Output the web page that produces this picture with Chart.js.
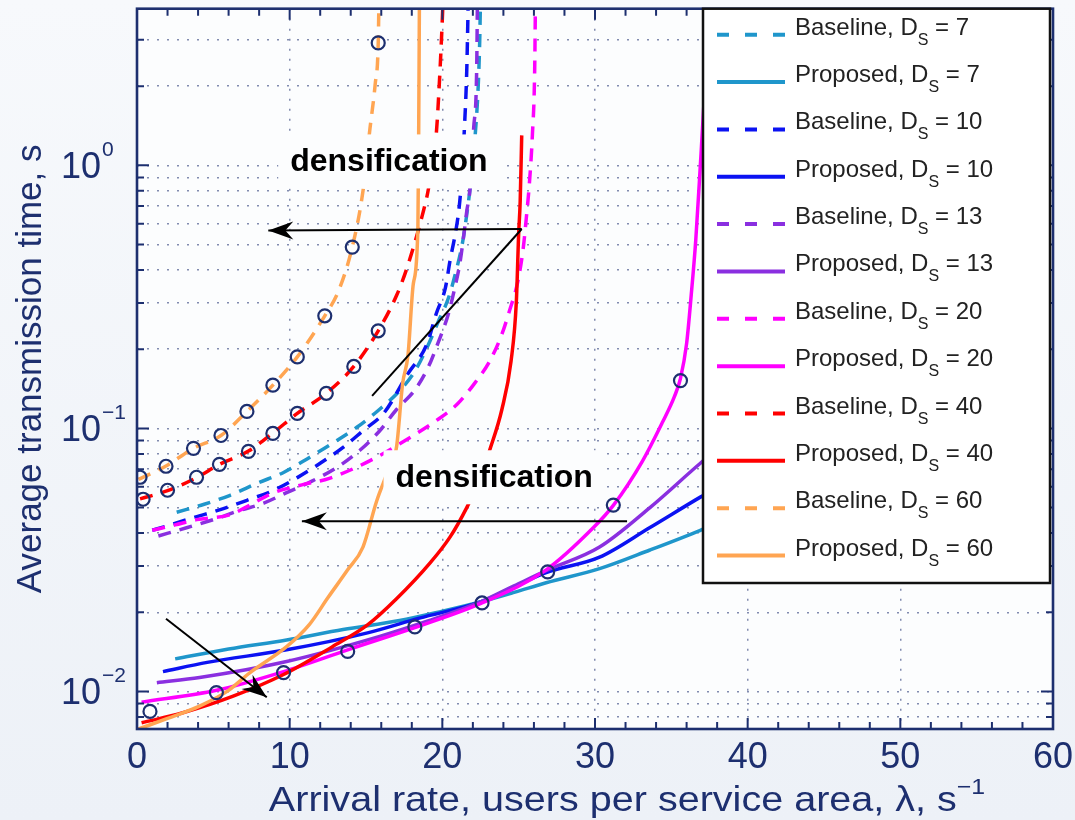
<!DOCTYPE html>
<html>
<head>
<meta charset="utf-8">
<script src="https://cdn.jsdelivr.net/npm/chart.js@4/dist/chart.umd.min.js"></script>
<style>
  html, body { margin: 0; padding: 0; background: #f2f5f9; }
  #chart { display: block; }
</style>
</head>
<body>
<canvas id="chart" width="1075" height="820"></canvas>
<script>
// tick labels
const xTicks = [0, 10, 20, 30, 40, 50, 60];
const yTickExps = [-2, -1, 0];

// service density values, one pair of curves per value
const dsValues = [7, 10, 13, 20, 40, 60];

// [arrival rate, average transmission time]
const baseline7 = [[2.6, 0.048], [4.4, 0.0515], [6.1, 0.0557], [7.9, 0.062], [9.6, 0.068], [11.3, 0.0776], [12.6, 0.0863], [14.4, 0.101], [15.8, 0.117], [17.2, 0.139], [18.2, 0.165], [19.0, 0.203], [19.8, 0.26], [20.4, 0.313], [20.9, 0.397], [21.3, 0.5], [21.6, 0.65], [21.9, 0.9], [22.15, 1.3], [22.35, 2.0], [22.45, 3.0], [22.5, 4.3]];
const proposed7 = [[2.5, 0.0133], [6.0, 0.0145], [9.8, 0.0157], [13.5, 0.0172], [17.2, 0.0186], [20.0, 0.0202], [22.5, 0.0219], [24.7, 0.0238], [26.8, 0.0259], [30.3, 0.0293], [33.6, 0.0345], [36.9, 0.041], [38.5, 0.045]];
const baseline10 = [[1.0, 0.041], [2.2, 0.043], [3.8, 0.046], [5.4, 0.049], [7.2, 0.0533], [8.9, 0.058], [10.5, 0.065], [12.0, 0.0737], [13.5, 0.0847], [14.8, 0.098], [16.2, 0.115], [17.7, 0.16], [19.0, 0.21], [19.6, 0.273], [20.2, 0.342], [20.5, 0.433], [20.85, 0.55], [21.1, 0.69], [21.25, 0.87], [21.45, 1.4], [21.6, 2.3], [21.7, 4.3]];
const proposed10 = [[1.7, 0.0119], [4.6, 0.0129], [9.8, 0.0144], [15.1, 0.0167], [18.5, 0.019], [22.5, 0.0219], [24.7, 0.025], [26.8, 0.0283], [30.3, 0.0324], [33.6, 0.042], [36.9, 0.0548], [38.5, 0.062]];
const baseline13 = [[1.4, 0.039], [3.3, 0.042], [5.0, 0.045], [6.6, 0.0485], [8.3, 0.052], [9.8, 0.057], [11.3, 0.0624], [13.1, 0.0711], [14.6, 0.0826], [15.9, 0.098], [17.0, 0.118], [18.2, 0.14], [19.1, 0.172], [19.7, 0.21], [20.4, 0.273], [20.8, 0.339], [21.15, 0.425], [21.4, 0.54], [21.6, 0.67], [21.8, 0.8], [22.05, 1.38], [22.25, 2.33], [22.3, 4.3]];
const proposed13 = [[1.3, 0.0108], [4.1, 0.0113], [9.8, 0.013], [15.9, 0.0162], [19.0, 0.0185], [22.5, 0.0219], [24.7, 0.0252], [26.8, 0.0288], [30.3, 0.0354], [33.6, 0.05], [36.9, 0.0737], [38.5, 0.088]];
const baseline20 = [[1.0, 0.041], [2.5, 0.043], [3.9, 0.045], [6.1, 0.047], [7.5, 0.0515], [8.9, 0.0568], [10.8, 0.061], [12.6, 0.0646], [15.3, 0.0756], [18.1, 0.094], [19.6, 0.107], [21.0, 0.124], [22.1, 0.148], [23.1, 0.18], [23.9, 0.228], [24.4, 0.28], [24.95, 0.363], [25.3, 0.485], [25.5, 0.63], [25.7, 0.85], [25.9, 1.31], [26.05, 2.33], [26.1, 4.3]];
const proposed20 = [[0.3, 0.0091], [5.2, 0.0101], [9.6, 0.0119], [13.8, 0.0144], [18.2, 0.0175], [22.6, 0.0217], [26.8, 0.029], [29.9, 0.042], [31.2, 0.051], [33.1, 0.075], [34.4, 0.105], [35.2, 0.132], [35.6, 0.155], [36.0, 0.21], [36.3, 0.32], [36.6, 0.52], [36.9, 1.0], [37.2, 2.0], [37.4, 3.5]];
const baseline40 = [[0.2, 0.054], [2.0, 0.058], [3.9, 0.065], [5.4, 0.073], [7.3, 0.082], [8.9, 0.096], [10.5, 0.114], [12.4, 0.136], [14.2, 0.172], [15.8, 0.235], [17.0, 0.32], [17.7, 0.41], [18.7, 0.65], [19.1, 0.82], [19.6, 1.31], [19.8, 2.03], [20.0, 3.6], [20.05, 4.3]];
const proposed40 = [[0.3, 0.0076], [3.0, 0.0083], [6.3, 0.0096], [9.6, 0.0116], [12.8, 0.0148], [15.1, 0.0179], [17.0, 0.0225], [19.2, 0.0308], [20.5, 0.0386], [21.6, 0.05], [22.4, 0.063], [23.1, 0.0826], [23.9, 0.118], [24.5, 0.18], [24.85, 0.305], [25.0, 0.55], [25.1, 0.73], [25.2, 1.3]];
const baseline60 = [[0.1, 0.064], [1.9, 0.072], [3.7, 0.084], [5.5, 0.094], [7.2, 0.116], [8.9, 0.146], [10.5, 0.187], [12.3, 0.268], [13.2, 0.333], [14.1, 0.489], [14.8, 0.797], [15.26, 1.38], [15.6, 2.03], [15.8, 2.9], [15.85, 4.3]];
const proposed60 = [[0.1, 0.0072], [2.0, 0.0079], [4.1, 0.0088], [6.0, 0.0101], [7.4, 0.0118], [9.8, 0.0148], [11.3, 0.018], [12.5, 0.0227], [13.8, 0.029], [14.8, 0.0354], [15.7, 0.053], [16.4, 0.068], [17.0, 0.085], [17.4, 0.148], [17.75, 0.19], [18.1, 0.355], [18.4, 0.58], [18.45, 1.3], [18.5, 4.3]];

// simulation points (circles)
const sim60 = [[0.2, 0.0652], [1.9, 0.0718], [3.7, 0.084], [5.5, 0.094], [7.2, 0.116], [8.9, 0.146], [10.5, 0.187], [12.3, 0.268], [14.1, 0.489], [15.8, 2.92]];
const sim40 = [[0.4, 0.0538], [2.0, 0.0582], [3.9, 0.0652], [5.4, 0.073], [7.3, 0.0818], [8.9, 0.0957], [10.5, 0.114], [12.4, 0.136], [14.2, 0.172], [15.8, 0.235]];
const sim20 = [[0.85, 0.0084], [5.2, 0.0099], [9.6, 0.0118], [13.8, 0.0142], [18.2, 0.0176], [22.6, 0.0217], [26.9, 0.0285], [31.2, 0.0511], [35.6, 0.152]];

const colors = ['#1f96cb', '#0b12f2', '#8a2fe0', '#ff00ff', '#ff0000', '#ffa552'];
const navy = '#1d2f6f';
const FONT = '"Liberation Sans", Arial, Helvetica, sans-serif';

const curves = [
  { kind: 'Baseline', d: dsValues[0], pts: baseline7 },
  { kind: 'Proposed', d: dsValues[0], pts: proposed7 },
  { kind: 'Baseline', d: dsValues[1], pts: baseline10 },
  { kind: 'Proposed', d: dsValues[1], pts: proposed10 },
  { kind: 'Baseline', d: dsValues[2], pts: baseline13 },
  { kind: 'Proposed', d: dsValues[2], pts: proposed13 },
  { kind: 'Baseline', d: dsValues[3], pts: baseline20 },
  { kind: 'Proposed', d: dsValues[3], pts: proposed20 },
  { kind: 'Baseline', d: dsValues[4], pts: baseline40 },
  { kind: 'Proposed', d: dsValues[4], pts: proposed40 },
  { kind: 'Baseline', d: dsValues[5], pts: baseline60 },
  { kind: 'Proposed', d: dsValues[5], pts: proposed60 },
];

// annotations, in data coordinates
const notes = [
  { text: 'densification', x: 16.5, y: 1.035 },
  { text: 'densification', x: 23.4, y: 0.0652 },
];
const arrows = [
  { from: [25.2, 0.573], to: [8.6, 0.565], head: true },
  { from: [15.4, 0.133], to: [25.2, 0.573], head: false },
  { from: [32.1, 0.0444], to: [10.8, 0.0444], head: true },
  { from: [1.9, 0.0189], to: [8.5, 0.0095], head: true },
];

const toXY = (pts) => pts.map(([x, y]) => ({ x, y }));

const datasets = curves.map((c, i) => ({
  label: `${c.kind}, D_S = ${c.d}`,
  kind: c.kind,
  d: c.d,
  data: toXY(c.pts),
  borderColor: colors[Math.floor(i / 2)],
  borderWidth: 3.5,
  borderDash: c.kind === 'Baseline' ? [13, 9] : [],
  pointRadius: 0,
  cubicInterpolationMode: 'monotone',
  fill: false,
  order: -i,
}));

[sim60, sim40, sim20].forEach((s) => {
  datasets.push({
    label: 'sim',
    data: toXY(s),
    showLine: false,
    pointRadius: 6.5,
    pointBorderWidth: 2.2,
    pointBorderColor: navy,
    pointBackgroundColor: 'rgba(0,0,0,0)',
    order: -100,
  });
});

// draws pieces of text side by side; size and baseline shift per piece,
// sx stretches the whole run horizontally
function richText(ctx, parts, x, y, align, sx = 1) {
  let total = 0;
  parts.forEach((p) => {
    ctx.font = `${p.size}px ${FONT}`;
    p.w = ctx.measureText(p.t).width;
    total += p.w;
  });
  let cx = align === 'center' ? -total / 2 : align === 'right' ? -total : 0;
  ctx.save();
  ctx.translate(x, y);
  ctx.scale(sx, 1);
  ctx.textAlign = 'left';
  ctx.textBaseline = 'alphabetic';
  parts.forEach((p) => {
    ctx.font = `${p.size}px ${FONT}`;
    ctx.fillText(p.t, cx, p.dy || 0);
    cx += p.w;
  });
  ctx.restore();
}

const background = {
  id: 'background',
  beforeDraw(chart) {
    const { ctx, chartArea: a } = chart;
    ctx.save();
    const g = ctx.createLinearGradient(0, 0, 0, chart.height);
    g.addColorStop(0, '#f7f9fc');
    g.addColorStop(1, '#edf1f7');
    ctx.fillStyle = g;
    ctx.fillRect(0, 0, chart.width, chart.height);
    ctx.fillStyle = '#fcfdfe';
    ctx.fillRect(a.left, a.top, a.right - a.left, a.bottom - a.top);
    ctx.restore();
  },
};

const annotations = {
  id: 'annotations',
  afterDatasetsDraw(chart) {
    const { ctx } = chart;
    const xs = chart.scales.x;
    const ys = chart.scales.y;
    ctx.save();
    ctx.font = `bold 32px ${FONT}`;
    notes.forEach((n) => {
      const px = xs.getPixelForValue(n.x);
      const py = ys.getPixelForValue(n.y);
      const w = ctx.measureText(n.text).width;
      ctx.fillStyle = '#fcfdfe';
      ctx.fillRect(px - w / 2 - 12, py - 27, w + 24, 54);
      ctx.fillStyle = '#000';
      ctx.textAlign = 'center';
      ctx.textBaseline = 'middle';
      ctx.fillText(n.text, px, py + 1);
    });
    ctx.strokeStyle = '#000';
    ctx.fillStyle = '#000';
    ctx.lineWidth = 2;
    arrows.forEach((a) => {
      const x1 = xs.getPixelForValue(a.from[0]);
      const y1 = ys.getPixelForValue(a.from[1]);
      const x2 = xs.getPixelForValue(a.to[0]);
      const y2 = ys.getPixelForValue(a.to[1]);
      ctx.beginPath();
      ctx.moveTo(x1, y1);
      ctx.lineTo(x2, y2);
      ctx.stroke();
      if (a.head) {
        ctx.save();
        ctx.translate(x2, y2);
        ctx.rotate(Math.atan2(y2 - y1, x2 - x1));
        ctx.beginPath();
        ctx.moveTo(0, 0);
        ctx.lineTo(-25, -9);
        ctx.lineTo(-17, 0);
        ctx.lineTo(-25, 9);
        ctx.closePath();
        ctx.fill();
        ctx.restore();
      }
    });
    ctx.restore();
  },
};

const frameAndText = {
  id: 'frameAndText',
  afterDraw(chart) {
    const { ctx, chartArea: a } = chart;
    const xs = chart.scales.x;
    const ys = chart.scales.y;
    ctx.save();

    // inward tick marks on all four sides
    ctx.strokeStyle = navy;
    ctx.lineWidth = 2;
    ctx.beginPath();
    for (let v = 2; v < 60; v += 2) {
      const px = xs.getPixelForValue(v);
      const len = v % 10 === 0 ? 11 : 7;
      ctx.moveTo(px, a.bottom); ctx.lineTo(px, a.bottom - len);
      ctx.moveTo(px, a.top); ctx.lineTo(px, a.top + len);
    }
    ys.ticks.forEach((t) => {
      const py = ys.getPixelForValue(t.value);
      const major = Math.abs(Math.log10(t.value) - Math.round(Math.log10(t.value))) < 1e-6;
      const len = major ? 12 : 7;
      ctx.moveTo(a.left, py); ctx.lineTo(a.left + len, py);
      ctx.moveTo(a.right, py); ctx.lineTo(a.right - len, py);
    });
    ctx.stroke();
    ctx.lineWidth = 2.6;
    ctx.strokeRect(a.left, a.top, a.right - a.left, a.bottom - a.top);

    // legend box
    const L = a.right - 350, T = a.top, R = a.right - 3, B = 583;
    ctx.fillStyle = '#ffffff';
    ctx.fillRect(L, T, R - L, B - T);
    ctx.strokeStyle = '#111';
    ctx.lineWidth = 2.5;
    ctx.strokeRect(L, T, R - L, B - T);
    chart.data.datasets.forEach((ds, i) => {
      if (!ds.kind) return;
      const y = T + 26 + i * 47.35;
      ctx.strokeStyle = ds.borderColor;
      ctx.lineWidth = 4;
      ctx.setLineDash(ds.kind === 'Baseline' ? [12, 16] : []);
      ctx.beginPath();
      ctx.moveTo(L + 14, y);
      ctx.lineTo(L + 82, y);
      ctx.stroke();
      ctx.setLineDash([]);
      ctx.fillStyle = '#222';
      richText(ctx, [
        { t: `${ds.kind}, D`, size: 24 },
        { t: 'S', size: 16, dy: 10 },
        { t: ` = ${ds.d}`, size: 24 },
      ], L + 92, y, 'left');
    });

    // tick labels
    ctx.fillStyle = navy;
    ctx.font = `36px ${FONT}`;
    ctx.textAlign = 'center';
    ctx.textBaseline = 'alphabetic';
    xTicks.forEach((v) => {
      ctx.fillText(String(v), xs.getPixelForValue(v), a.bottom + 39);
    });
    yTickExps.forEach((e) => {
      const py = ys.getPixelForValue(Math.pow(10, e));
      ctx.font = `36px ${FONT}`;
      ctx.textAlign = 'right';
      ctx.fillText('10', a.left - 36, py + 13);
      ctx.font = `21px ${FONT}`;
      ctx.textAlign = 'left';
      ctx.fillText(e < 0 ? '\u2212' + Math.abs(e) : String(e), a.left - 35, py - 9);
    });

    // axis titles
    richText(ctx, [
      { t: 'Arrival rate, users per service area, \u03bb, s', size: 35 },
      { t: '\u22121', size: 22, dy: -17 },
    ], 627, 811, 'center', 1.13);
    ctx.save();
    ctx.translate(41, (a.top + a.bottom) / 2);
    ctx.rotate(-Math.PI / 2);
    ctx.font = `35px ${FONT}`;
    ctx.textAlign = 'center';
    ctx.fillText('Average transmission time, s', 0, 0);
    ctx.restore();

    ctx.restore();
  },
};

const gridColor = 'rgba(29, 47, 111, 0.55)';

new Chart(document.getElementById('chart'), {
  type: 'line',
  data: { datasets },
  options: {
    responsive: false,
    animation: false,
    events: [],
    layout: { padding: { top: 7, right: 22, left: 0, bottom: 0 } },
    plugins: {
      legend: { display: false },
      tooltip: { enabled: false },
    },
    scales: {
      x: {
        type: 'linear',
        min: 0,
        max: 60,
        ticks: { display: false, stepSize: 10 },
        grid: { color: gridColor, lineWidth: 1.5, drawTicks: false },
        border: { display: false, dash: [2, 8] },
        afterFit: (s) => { s.height = 91; },
      },
      y: {
        type: 'logarithmic',
        min: 0.0072,
        max: 3.94,
        ticks: { display: false },
        grid: { color: gridColor, lineWidth: 1.5, drawTicks: false },
        border: { display: false, dash: [2, 8] },
        afterBuildTicks: (scale) => {
          const ticks = [];
          for (let e = -3; e <= 0; e++) {
            for (let m = 1; m <= 9; m++) {
              const v = m * Math.pow(10, e);
              if (v >= scale.min && v <= scale.max) ticks.push({ value: v });
            }
          }
          scale.ticks = ticks;
        },
        afterFit: (s) => { s.width = 137; },
      },
    },
  },
  plugins: [background, annotations, frameAndText],
});
</script>
</body>
</html>
